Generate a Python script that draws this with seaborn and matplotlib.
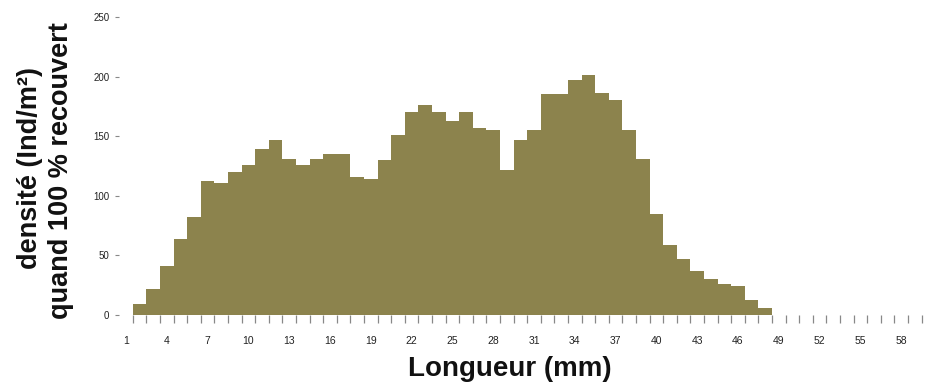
import matplotlib
matplotlib.use("Agg")
import matplotlib.pyplot as plt
from matplotlib.ticker import FixedLocator
import seaborn as sns
import pandas as pd

# Length classes (mm) and density per class
longueur = list(range(1, 60))
densite = [0, 9, 22, 41, 64, 82, 112, 111, 120, 126,
           139, 147, 131, 126, 131, 135, 135, 116, 114, 130,
           151, 170, 176, 170, 163, 170, 157, 155, 122, 147,
           155, 185, 185, 197, 201, 186, 180, 155, 131, 85,
           59, 47, 37, 30, 26, 24, 13, 6, 0, 0,
           0, 0, 0, 0, 0, 0, 0, 0, 0]
etiquettes_x = [str(v) for v in longueur[::3]]
graduations_y = [0, 50, 100, 150, 200, 250]

bar_color = "#8C834D"

sns.set_theme(style="white")
plt.rcParams["font.family"] = ["Liberation Sans", "DejaVu Sans"]

df = pd.DataFrame({"longueur": longueur, "densite": densite})

fig = plt.figure(figsize=(9.36, 3.85), dpi=100)
ax = fig.add_axes([119.2 / 936, 70 / 385, 802.4 / 936, 298 / 385])

sns.barplot(data=df, x="longueur", y="densite", order=longueur,
            color=bar_color, saturation=1, width=1.0, linewidth=0,
            ax=ax)

n = len(longueur)
ax.set_xlim(-0.5, n - 0.5)
ax.set_ylim(0, 250)

# class labels every third class, boundary ticks between classes
ax.xaxis.set_major_locator(FixedLocator(list(range(0, n, 3))))
ax.set_xticklabels(etiquettes_x)
ax.xaxis.set_minor_locator(FixedLocator([i + 0.5 for i in range(n)]))
ax.tick_params(axis="x", which="major", length=0, pad=15,
               labelsize=7.5, labelcolor="#222222")
ax.tick_params(axis="x", which="minor", bottom=True, length=6, width=0.9,
               color="#888888", direction="out")

ax.set_yticks(graduations_y)
ax.set_yticklabels([str(v) for v in graduations_y])
ax.tick_params(axis="y", which="major", left=True, length=3, width=0.8,
               color="#888888", pad=4, labelsize=7, labelcolor="#222222")

for side in ["top", "right", "left", "bottom"]:
    ax.spines[side].set_visible(False)

ax.set_xlabel("")
ax.set_ylabel("")

fig.text(30 / 936, 1 - 168 / 385, "densité (Ind/m²)", rotation=90,
         ha="center", va="center", fontsize=19.5, fontweight="bold",
         color="#111111")
fig.text(61 / 936, 1 - 171 / 385, "quand 100 % recouvert", rotation=90,
         ha="center", va="center", fontsize=19.5, fontweight="bold",
         color="#111111")
fig.text(510 / 936, 1 - 369 / 385, "Longueur (mm)", ha="center",
         va="center", fontsize=20, fontweight="bold", color="#111111")

fig.savefig("out.png", dpi=100, facecolor="white")
